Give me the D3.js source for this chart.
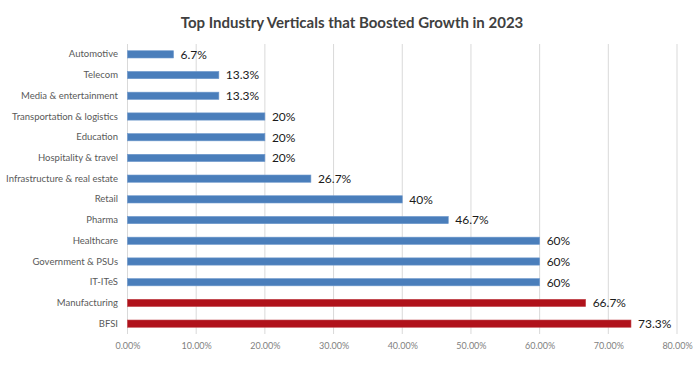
<!DOCTYPE html>
<html>
<head>
<meta charset="utf-8">
<script src="https://cdn.jsdelivr.net/npm/d3@7"></script>
<style>
  body { margin: 0; background: #fff; }
  svg { display: block; font-family: Lato, "Open Sans", sans-serif; }
</style>
</head>
<body>
<div id="chart"></div>
<script>
// chart data
var categories = ["Automotive", "Telecom", "Media & entertainment", "Transportation & logistics",
  "Education", "Hospitality & travel", "Infrastructure & real estate", "Retail", "Pharma",
  "Healthcare", "Government & PSUs", "IT-ITeS", "Manufacturing", "BFSI"];
var values = [6.7, 13.3, 13.3, 20, 20, 20, 26.7, 40, 46.7, 60, 60, 60, 66.7, 73.3];
var valueLabels = ["6.7%", "13.3%", "13.3%", "20%", "20%", "20%", "26.7%", "40%", "46.7%",
  "60%", "60%", "60%", "66.7%", "73.3%"];
var highlighted = ["Manufacturing", "BFSI"];
var tickValues = [0, 10, 20, 30, 40, 50, 60, 70, 80];

var width = 700, height = 367;

var svg = d3.select("#chart").append("svg")
  .attr("width", width)
  .attr("height", height);

// title
svg.append("text")
  .attr("x", 352)
  .attr("y", 28)
  .attr("text-anchor", "middle")
  .attr("font-size", 15)
  .attr("font-weight", "bold")
  .attr("fill", "#404040")
  .text("Top Industry Verticals that Boosted Growth in 2023");

var x = d3.scaleLinear().domain([0, 80]).range([127.5, 677]);
var y = d3.scaleBand().domain(categories).range([44, 334])
  .paddingInner(0.65).paddingOuter(0.325);

// gridlines
svg.append("g")
  .selectAll("line")
  .data(tickValues)
  .enter()
  .append("line")
  .attr("x1", function (d) { return x(d); })
  .attr("x2", function (d) { return x(d); })
  .attr("y1", 44)
  .attr("y2", 334)
  .attr("stroke", "#d9d9d9")
  .attr("stroke-width", 1);

// x axis
var xAxis = svg.append("g")
  .attr("transform", "translate(0,334)")
  .call(d3.axisBottom(x).tickValues(tickValues)
    .tickFormat(function (d) { return d.toFixed(2) + "%"; })
    .tickSize(0).tickPadding(9));
xAxis.select(".domain").remove();
xAxis.selectAll("text")
  .attr("font-size", 9)
  .attr("font-family", "Lato, 'Open Sans', sans-serif")
  .attr("fill", "#7f7f7f");

// y axis labels
var yAxis = svg.append("g")
  .attr("transform", "translate(118,0)")
  .call(d3.axisLeft(y).tickSize(0).tickPadding(0));
yAxis.select(".domain").remove();
yAxis.selectAll("text")
  .attr("font-size", 9.5)
  .attr("font-family", "Lato, 'Open Sans', sans-serif")
  .attr("fill", "#595959");

// bars
svg.append("g")
  .selectAll("rect")
  .data(categories)
  .enter()
  .append("rect")
  .attr("x", x(0))
  .attr("y", function (d) { return y(d); })
  .attr("width", function (d, i) { return x(values[i]) - x(0); })
  .attr("height", y.bandwidth())
  .attr("fill", function (d) { return highlighted.indexOf(d) >= 0 ? "#b0121b" : "#4a7ebb"; })
  .attr("stroke", function (d) { return highlighted.indexOf(d) >= 0 ? "#c0454b" : "#6e98cc"; })
  .attr("stroke-width", 0.6);

// value labels
svg.append("g")
  .selectAll("text")
  .data(categories)
  .enter()
  .append("text")
  .attr("x", function (d, i) { return x(values[i]) + 7; })
  .attr("y", function (d) { return y(d) + y.bandwidth() / 2; })
  .attr("dy", "0.36em")
  .attr("font-size", 12)
  .attr("fill", "#1a1a1a")
  .text(function (d, i) { return valueLabels[i]; });
</script>
</body>
</html>
